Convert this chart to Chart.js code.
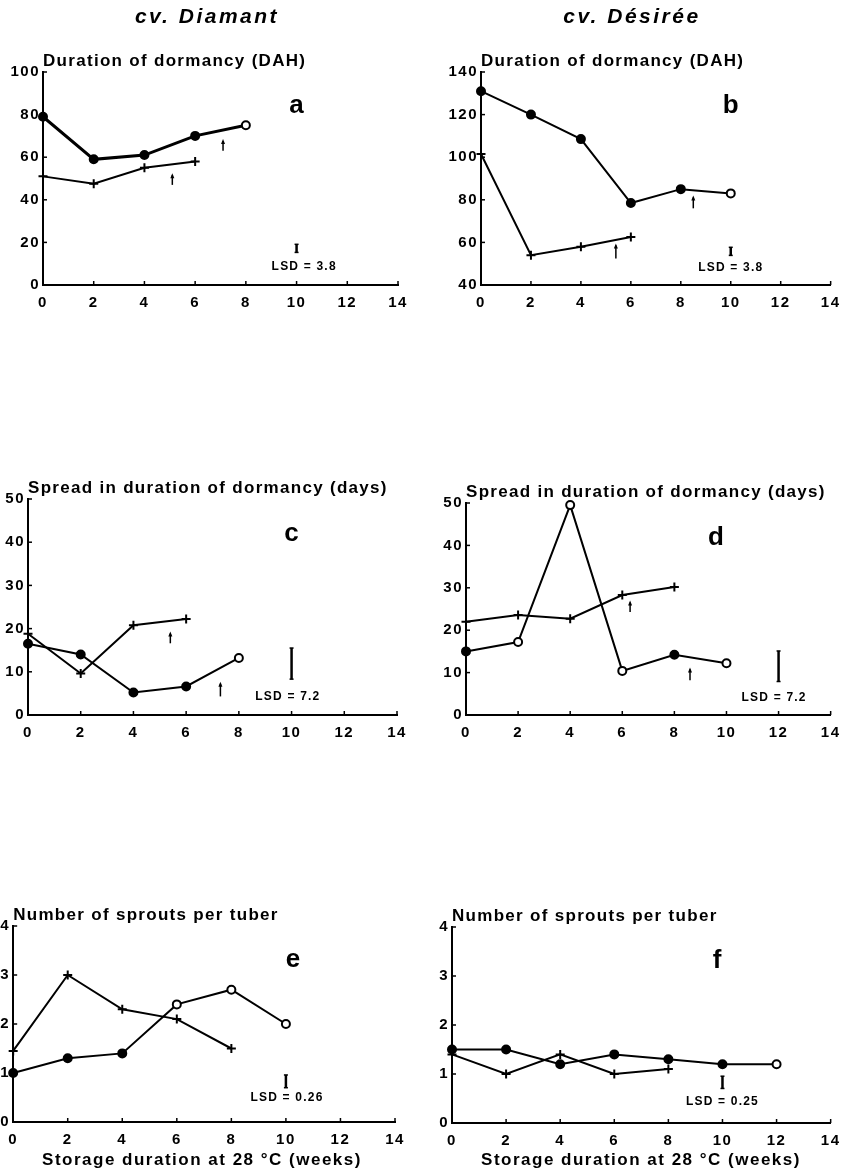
<!DOCTYPE html>
<html>
<head>
<meta charset="utf-8">
<script src="https://cdn.jsdelivr.net/npm/chart.js@4.4.1/dist/chart.umd.min.js"></script>
<style>
  body { margin: 0; background: #fff; }
  #wrap { position: relative; width: 848px; height: 1174px; }
  #wrap canvas { position: absolute; }
</style>
</head>
<body>
<div id="wrap"></div>
<script>
const weeks = [0, 2, 4, 6, 8, 10, 12];

// a - cv. Diamant, duration of dormancy (DAH)
const dormDiamantDot = [79, 59, 61, 70, 75];
const dormDiamantPlus = [51, 47.5, 55, 58];
// b - cv. Desiree, duration of dormancy (DAH)
const dormDesireeDot = [131, 120, 108.5, 78.5, 85, 83];
const dormDesireePlus = [101.5, 54, 58, 62.5];
// c - cv. Diamant, spread in duration of dormancy (days)
const spreadDiamantDot = [16.5, 14, 5.2, 6.6, 13.2];
const spreadDiamantPlus = [18.8, 9.6, 20.8, 22.2];
// d - cv. Desiree, spread in duration of dormancy (days)
const spreadDesireeDot = [15, 17.2, 49.5, 10.4, 14.2, 12.2];
const spreadDesireePlus = [22, 23.6, 22.7, 28.3, 30.2];
// e - cv. Diamant, sprouts per tuber
const sproutsDiamantDot = [1.0, 1.3, 1.4, 2.4, 2.7, 2.0];
const sproutsDiamantPlus = [1.45, 3.0, 2.3, 2.1, 1.5];
// f - cv. Desiree, sprouts per tuber
const sproutsDesireeDot = [1.5, 1.5, 1.2, 1.4, 1.3, 1.2, 1.2];
const sproutsDesireePlus = [1.4, 1.0, 1.4, 1.0, 1.1];

// end-of-dormancy arrows (weeks) and LSD values
const arrowsDiamantDorm = [5.1, 7.1];
const arrowsDesireeDorm = [5.4, 8.5];
const arrowsDiamantSpread = [5.4, 7.3];
const arrowsDesireeSpread = [6.3, 8.6];
const lsdValues = [3.8, 3.8, 7.2, 7.2, 0.26, 0.25];

const FONT = '"Liberation Sans", Arial, sans-serif';

const panels = [
  { box: [0, 0, 424, 340], area: [43, 72, 398, 285], y: [0, 100, 20],
    title: 'Duration of dormancy (DAH)', letter: 'a', letterAt: [10, 80.7],
    header: 'cv. Diamant', headerX: 207,
    dot: dormDiamantDot, plus: dormDiamantPlus, open: [4], dotWidth: 3,
    arrows: arrowsDiamantDorm, arrowY: [[47, 52.5], [63, 68.5]],
    lsd: lsdValues[0], lsdAt: [10, 17.2], lsdLabelAt: [10.3, 8.4] },
  { box: [424, 0, 424, 340], area: [481, 72, 834, 285], y: [40, 140, 20],
    title: 'Duration of dormancy (DAH)', letter: 'b', letterAt: [10, 120.7],
    header: 'cv. Désirée', headerX: 208,
    dot: dormDesireeDot, plus: dormDesireePlus, open: [5], dotWidth: 2,
    arrows: arrowsDesireeDorm, arrowY: [[52.5, 59.5], [76, 82]],
    lsd: lsdValues[1], lsdAt: [10, 55.8], lsdLabelAt: [10, 48] },
  { box: [0, 440, 424, 320], area: [28, 499, 397, 715], y: [0, 50, 10],
    title: 'Spread in duration of dormancy (days)', letter: 'c', letterAt: [10, 40.3],
    dot: spreadDiamantDot, plus: spreadDiamantPlus, open: [4], dotWidth: 2,
    arrows: arrowsDiamantSpread, arrowY: [[16.6, 19.3], [4.3, 7.7]],
    lsd: lsdValues[2], lsdAt: [10, 11.9], lsdLabelAt: [9.86, 4.2] },
  { box: [424, 440, 424, 320], area: [466, 503, 834, 715], y: [0, 50, 10],
    title: 'Spread in duration of dormancy (days)', letter: 'd', letterAt: [9.6, 40],
    dot: spreadDesireeDot, plus: spreadDesireePlus, open: [1, 2, 3, 5], dotWidth: 2,
    arrows: arrowsDesireeSpread, arrowY: [[24.3, 27], [8.2, 11.2]],
    lsd: lsdValues[3], lsdAt: [12, 11.5], lsdLabelAt: [11.83, 4.2] },
  { box: [0, 880, 424, 294], area: [13, 926, 395, 1122], y: [0, 4, 1],
    title: 'Number of sprouts per tuber', letter: 'e', letterAt: [10.26, 3.16],
    xTitleX: 202,
    dot: sproutsDiamantDot, plus: sproutsDiamantPlus, open: [3, 4, 5], dotWidth: 2,
    arrows: [], arrowY: [],
    lsd: lsdValues[4], lsdAt: [10, 0.83], lsdLabelAt: [10.04, 0.49] },
  { box: [424, 880, 424, 294], area: [452, 927, 833, 1123], y: [0, 4, 1],
    title: 'Number of sprouts per tuber', letter: 'f', letterAt: [9.8, 3.16],
    xTitleX: 217,
    dot: sproutsDesireeDot, plus: sproutsDesireePlus, open: [6], dotWidth: 2,
    arrows: [], arrowY: [],
    lsd: lsdValues[5], lsdAt: [10, 0.83], lsdLabelAt: [10, 0.43] }
];

const decor = {
  id: 'decor',
  beforeDraw(chart) {
    chart.ctx.letterSpacing = '1.5px';
  },
  afterDraw(chart, args, o) {
    const ctx = chart.ctx;
    const a = chart.chartArea;
    const x = chart.scales.x, y = chart.scales.y;
    const line = (x0, y0, x1, y1) => { ctx.beginPath(); ctx.moveTo(x0, y0); ctx.lineTo(x1, y1); ctx.stroke(); };
    ctx.save();
    ctx.fillStyle = '#000';
    ctx.strokeStyle = '#000';

    // inward tick marks
    ctx.lineWidth = 1.5;
    x.ticks.forEach(t => { const px = x.getPixelForValue(t.value); line(px, a.bottom, px, a.bottom - 4); });
    y.ticks.forEach(t => { const py = y.getPixelForValue(t.value); line(a.left, py, a.left + 4, py); });

    // panel title
    ctx.letterSpacing = '1.3px';
    ctx.font = 'bold 17px ' + FONT;
    ctx.textAlign = 'left';
    ctx.textBaseline = 'alphabetic';
    ctx.fillText(o.title, a.left, a.top - 6);

    // panel letter
    ctx.letterSpacing = '0px';
    ctx.font = 'bold 26px ' + FONT;
    ctx.textAlign = 'center';
    ctx.fillText(o.letter, x.getPixelForValue(o.letterAt[0]), y.getPixelForValue(o.letterAt[1]));

    // arrows
    ctx.lineWidth = 1.5;
    o.arrows.forEach((ax, i) => {
      const px = x.getPixelForValue(ax);
      const p0 = y.getPixelForValue(o.arrowY[i][0]);
      const p1 = y.getPixelForValue(o.arrowY[i][1]);
      line(px, p0, px, p1 + 2);
      ctx.beginPath();
      ctx.moveTo(px, p1);
      ctx.lineTo(px - 2, p1 + 5);
      ctx.lineTo(px + 2, p1 + 5);
      ctx.closePath();
      ctx.fill();
    });

    // LSD bar
    const lx = x.getPixelForValue(o.lsdAt[0]);
    const ly0 = y.getPixelForValue(o.lsdAt[1] - o.lsd / 2);
    const ly1 = y.getPixelForValue(o.lsdAt[1] + o.lsd / 2);
    ctx.lineWidth = 2.5;
    line(lx, ly0, lx, ly1);
    ctx.lineWidth = 1.5;
    line(lx - 2, ly0, lx + 2, ly0);
    line(lx - 2, ly1, lx + 2, ly1);
    ctx.letterSpacing = '1.2px';
    ctx.font = 'bold 12px ' + FONT;
    ctx.textBaseline = 'middle';
    ctx.fillText('LSD = ' + o.lsd, x.getPixelForValue(o.lsdLabelAt[0]), y.getPixelForValue(o.lsdLabelAt[1]));

    // column header
    if (o.header) {
      ctx.letterSpacing = '2.5px';
      ctx.font = 'italic bold 21px ' + FONT;
      ctx.textBaseline = 'alphabetic';
      ctx.fillText(o.header, o.headerX, 23);
    }
    // x axis title
    if (o.xTitleX) {
      ctx.letterSpacing = '1.5px';
      ctx.font = 'bold 17px ' + FONT;
      ctx.textBaseline = 'alphabetic';
      ctx.fillText('Storage duration at 28 °C (weeks)', o.xTitleX, 285);
    }
    ctx.restore();
  }
};

const wrap = document.getElementById('wrap');

panels.forEach(p => {
  const [bl, bt, bw, bh] = p.box;
  const [L, T, R, B] = p.area;
  const cv = document.createElement('canvas');
  cv.width = bw; cv.height = bh;
  cv.style.left = bl + 'px'; cv.style.top = bt + 'px';
  cv.style.width = bw + 'px'; cv.style.height = bh + 'px';
  wrap.appendChild(cv);

  const dotColors = p.dot.map((v, i) => p.open.includes(i) ? '#fff' : '#000');

  new Chart(cv.getContext('2d'), {
    type: 'line',
    data: {
      datasets: [
        {
          data: p.dot.map((v, i) => ({ x: weeks[i], y: v })),
          borderColor: '#000', borderWidth: p.dotWidth,
          pointStyle: 'circle', pointRadius: 4, pointBorderWidth: 2,
          pointBorderColor: '#000', pointBackgroundColor: dotColors,
          clip: false
        },
        {
          data: p.plus.map((v, i) => ({ x: weeks[i], y: v })),
          borderColor: '#000', borderWidth: 2,
          pointStyle: 'cross', pointRadius: 4.5, pointBorderWidth: 2,
          pointBorderColor: '#000',
          clip: false
        }
      ]
    },
    options: {
      responsive: false,
      animation: false,
      events: [],
      layout: { padding: { left: 0, top: T - bt, right: bl + bw - R, bottom: 0 } },
      plugins: {
        legend: { display: false },
        tooltip: { enabled: false },
        decor: p
      },
      scales: {
        x: {
          type: 'linear', min: 0, max: 14,
          grid: { display: false, drawTicks: false },
          border: { display: true, color: '#000', width: 2 },
          ticks: { stepSize: 2, color: '#000', padding: 9, maxRotation: 0,
                   font: { family: FONT, size: 15, weight: 'bold' } },
          afterFit: s => { s.height = bt + bh - B; }
        },
        y: {
          min: p.y[0], max: p.y[1],
          grid: { display: false, drawTicks: false },
          border: { display: true, color: '#000', width: 2 },
          ticks: { stepSize: p.y[2], color: '#000', padding: 3,
                   font: { family: FONT, size: 15, weight: 'bold' } },
          afterFit: s => { s.width = L - bl; }
        }
      }
    },
    plugins: [decor]
  });
});
</script>
</body>
</html>
